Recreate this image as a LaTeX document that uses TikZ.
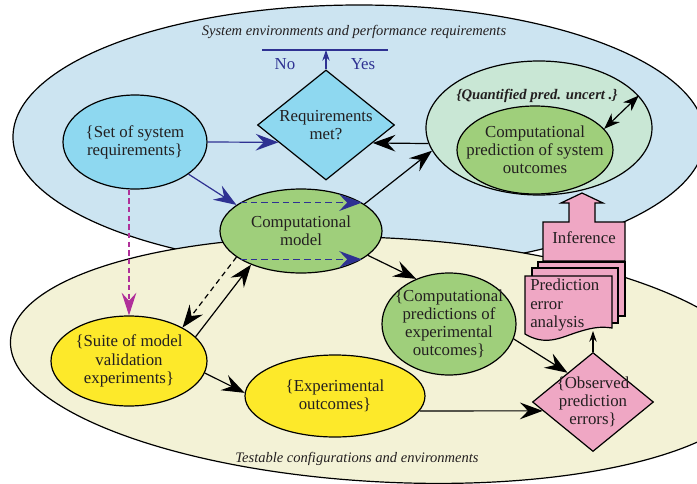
\documentclass[tikz,border=0pt]{standalone}
\usepackage{fontspec}
\setmainfont{Liberation Serif}
\usetikzlibrary{positioning, shapes.geometric, arrows.meta, calc}

\definecolor{skyfill}{HTML}{CCE4F1}
\definecolor{reqfill}{HTML}{8ED8F0}
\definecolor{modelfill}{HTML}{9FCF7B}
\definecolor{uncfill}{HTML}{C9E7D5}
\definecolor{testfill}{HTML}{F3F2D6}
\definecolor{expfill}{HTML}{FDE92A}
\definecolor{errfill}{HTML}{EFA7C4}
\definecolor{decblue}{HTML}{2E3192}
\definecolor{linkmag}{HTML}{B0309A}
\definecolor{txtgray}{HTML}{231F20}

\begin{document}
\begin{tikzpicture}[x=0.75pt, y=-0.75pt,
    region/.style={draw=black, line width=0.9pt},
    blob/.style={ellipse, draw=black, line width=0.9pt, inner sep=0pt},
    rhomb/.style={diamond, draw=black, line width=0.9pt, inner sep=0pt},
    txt/.style={align=center, text=txtgray, inner sep=0pt, font=\fontsize{12.6}{13.6}\selectfont},
    note/.style={text=txtgray, inner sep=0pt, font=\fontsize{10.9}{13}\selectfont\itshape},
    flow/.style={line width=0.9pt, -{Stealth[length=17pt,width=12.5pt,inset=6pt]}},
    smallflow/.style={line width=0.8pt, -{Stealth[length=8pt,width=5.5pt]}}]
    \useasboundingbox (0,0) rectangle (697,483);
    \clip (0,0) rectangle (697,483);
    \draw[region, fill=skyfill] (359,137) ellipse [x radius=346, y radius=132];
    \draw[region, fill=testfill, rotate around={-3:(385,360)}] (385,360) ellipse [x radius=375, y radius=122];
    \node[note] (systitle) at (354,32) {System environments and performance requirements};
    \node[note] (testtitle) at (357,459) {Testable configurations and environments};

    \node[blob, fill=reqfill, minimum width=108pt, minimum height=70.5pt,
      label={[txt]center:{\{Set of system\\requirements\}}}] (reqset) at (135,142) {};
    \node[rhomb, fill=reqfill, minimum width=102.75pt, minimum height=82.5pt,
      label={[txt]center:{Requirements\\met?}}] (reqmet) at (326,125) {};
    \node[blob, fill=modelfill, minimum width=121.5pt, minimum height=63pt,
      label={[txt]center:{Computational\\model}}] (model) at (301,231) {};
    \node[blob, fill=uncfill, minimum width=169.5pt, minimum height=100.5pt] (uncert) at (539,128) {};
    \node[txt, font=\fontsize{11}{13}\selectfont\bfseries\itshape] (uncertlabel) at (537,96) {\{Quantified pred. uncert .\}};
    \node[blob, fill=modelfill, minimum width=117pt, minimum height=66pt,
      label={[txt]center:{Computational\\prediction of system\\outcomes}}] (syspred) at (535,150) {};
    \node[blob, fill=modelfill, minimum width=100.5pt, minimum height=76.5pt,
      label={[txt]center:{\{Computational\\predictions of\\experimental\\outcomes\}}}] (exppred) at (449,324) {};
    \node[blob, fill=expfill, minimum width=117pt, minimum height=67.5pt,
      label={[txt]center:{\{Suite of model\\validation\\experiments\}}}] (suite) at (129,361) {};
    \node[blob, fill=expfill, minimum width=135pt, minimum height=61.5pt,
      label={[txt]center:{\{Experimental\\outcomes\}}}] (expout) at (335,396) {};
    \node[rhomb, fill=errfill, minimum width=90.75pt, minimum height=74.25pt,
      label={[txt]center:{\{Observed\\prediction\\errors\}}}] (errors) at (593,402) {};

    \draw[region, fill=errfill] (543,261) -- (543,222) -- (569,222) -- (569,203) -- (561,203) -- (582,193)
      -- (603,203) -- (595,203) -- (595,222) -- (625,222) -- (625,261) -- cycle;
    \node[txt] (inference) at (584,238) {Inference};
    \draw[region, fill=errfill] (538,262) rectangle (625,316);
    \draw[region, fill=errfill] (532,268) rectangle (618,323);
    \draw[region, fill=errfill] (525,276) -- (612,276) -- (612,328) .. controls (600,326) and (590,328) .. (575,333)
      .. controls (560,338) and (545,346) .. (525,334) -- cycle;
    \node[txt, align=left, anchor=north west] (analysis) at (530,279) {Prediction\\error\\analysis};
    \coordinate (docfoot) at (593,331);

    \coordinate (nobar) at (262,50);
    \coordinate (yesbar) at (388,50);
    \draw[decblue, line width=0.9pt] (nobar) -- (yesbar);
    \draw[smallflow, decblue] (reqmet.north) -- (reqmet.north |- nobar);
    \node[txt, text=decblue] (nolabel) at (285,64) {No};
    \node[txt, text=decblue] (yeslabel) at (363,64) {Yes};

    \draw[flow, decblue] (reqset.east) -- (reqmet.200);
    \draw[flow, decblue] (reqset.-31) -- (model.158);
    \draw[flow, decblue, line width=1.1pt, dash pattern=on 5pt off 3pt] (model.155) -- (model.25);
    \draw[flow, decblue, line width=1.1pt, dash pattern=on 5pt off 3pt] (model.205) -- (model.-25);
    \draw[flow] (model.23) -- (uncert.192);
    \draw[flow] (uncert.188) -- (reqmet.-21);
    \draw[line width=0.9pt, {Stealth[length=12pt,width=9pt]}-{Stealth[length=12pt,width=9pt]}] (syspred.17) -- (uncert.18);
    \draw[flow] (model.-20) -- (exppred.126);
    \draw[line width=0.8pt, linkmag, dash pattern=on 4pt off 2.5pt, -{Stealth[length=17pt,width=11pt,inset=6pt]}] (suite.north |- reqset.south) -- (suite.north);
    \draw[flow, dash pattern=on 4pt off 3pt] (model.202) -- (suite.32);
    \draw[flow] (suite.20) -- (model.214);
    \draw[flow] (suite.-9) -- (expout.178);
    \draw[flow] (expout.-10) -- (errors.190);
    \draw[flow] (exppred.-13) -- (errors.131);
    \draw[smallflow] (errors.north) -- (docfoot);
\end{tikzpicture}
\end{document}
